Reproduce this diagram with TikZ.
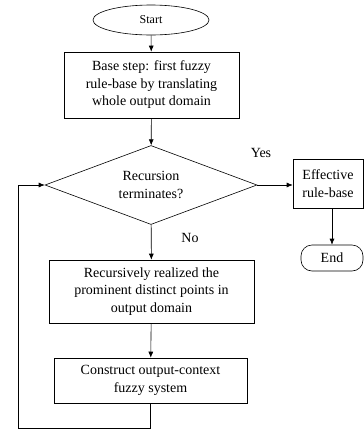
\documentclass[tikz,border=0pt]{standalone}
\usepackage{fontspec}
\setmainfont{Liberation Serif}
\usetikzlibrary{shapes.geometric,arrows.meta}

\begin{document}
\begin{tikzpicture}[x=1pt,y=-1pt,font=\fontsize{14}{17.5}\selectfont,line width=0.6pt,
  box/.style={draw,align=center,inner sep=2pt},
  flow/.style={-{Latex[length=6pt,width=5pt]}}]
\useasboundingbox (0,0) rectangle (364,432);

% main column
\node[draw,ellipse,minimum width=116pt,minimum height=30pt,inner sep=0pt] (start) at (151,20) {\fontsize{12}{14}\selectfont Start};
\node[box,minimum width=175pt,minimum height=66pt] (base) at (151.5,85) {Base step: first fuzzy\\rule-base by translating\\whole output domain};
\node[draw,diamond,aspect=2.7,minimum width=212pt,minimum height=79pt,inner sep=0pt,align=center] (decide) at (151,185) {Recursion\\terminates?};
\node[box,minimum width=205pt,minimum height=63pt] (realize) at (151.5,291.5) {Recursively realized the\\prominent distinct points in\\output domain};
\node[box,minimum width=193pt,minimum height=45pt] (construct) at (150.5,380.5) {Construct output-context\\fuzzy system};

% right branch
\node[box,minimum width=70pt,minimum height=49pt,inner sep=1pt] (effective) at (328,183.5) {Effective\\rule-base};
\node[draw,rounded corners=11pt,minimum width=62pt,minimum height=26pt] (end) at (332,258) {End};

\node (yes) at (261,153) {Yes};
\node (no) at (190,238) {No};
\coordinate (loop) at (18,428);

\draw[flow] (start) -- (base);
\draw[flow] (base) -- (decide);
\draw[flow] (decide) -- (realize);
\draw[flow] (realize) -- (construct);
\draw[flow] (decide.east) -- (effective.west |- decide.east);
\draw[flow] (effective.south -| end.north) -- (end.north);
\draw[flow] (construct.south) |- (loop) |- (decide.west);
\end{tikzpicture}
\end{document}
